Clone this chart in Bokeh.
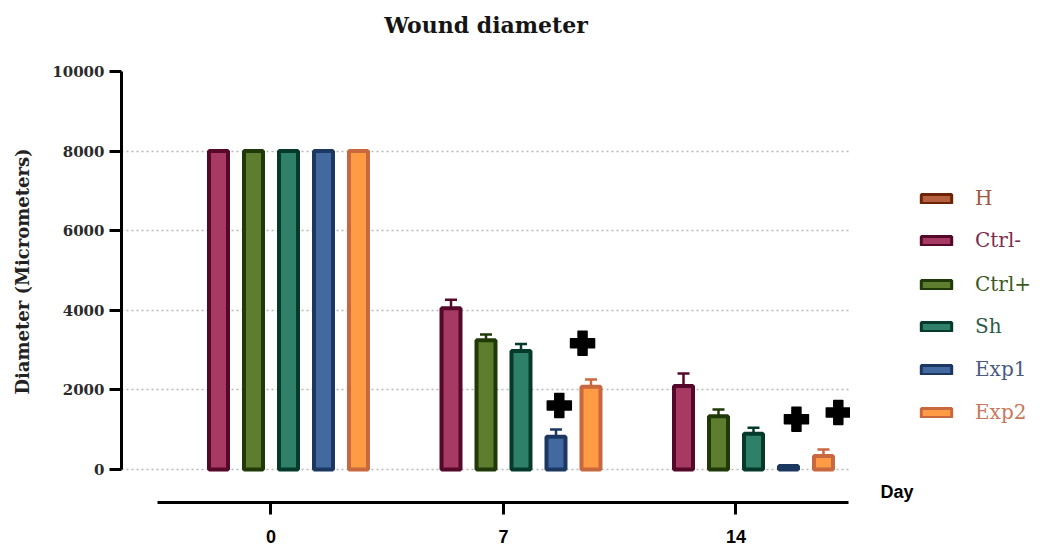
import numpy as np
from bokeh.plotting import figure
from bokeh.layouts import row
from bokeh.models import (ColumnDataSource, FixedTicker, Range1d, Whisker, TeeHead,
                          Legend, LegendItem, Label)
from bokeh.embed import file_html
from bokeh.resources import INLINE

# ---------------- data ----------------
days = ["0", "7", "14"]
groups = ["H", "Ctrl-", "Ctrl+", "Sh", "Exp1", "Exp2"]
H = [np.nan, np.nan, np.nan]
ctrl_neg = [8000, 4050, 2100]
ctrl_pos = [8000, 3250, 1340]
sh = [8000, 2980, 900]
exp1 = [8000, 820, 90]
exp2 = [8000, 2080, 340]
H_err = [0, 0, 0]
ctrl_neg_err = [0, 215, 310]
ctrl_pos_err = [0, 143, 170]
sh_err = [0, 175, 150]
exp1_err = [0, 184, 0]
exp2_err = [0, 180, 160]
# significance markers (day index position, value)
sig_x = [1.24, 1.34, 2.26, 2.44]
sig_y = [1610, 3170, 1260, 1430]
y_ticks = [0, 2000, 4000, 6000, 8000, 10000]
grid_ticks = [0, 2000, 4000, 6000, 8000]

values = [H, ctrl_neg, ctrl_pos, sh, exp1, exp2]
errors = [H_err, ctrl_neg_err, ctrl_pos_err, sh_err, exp1_err, exp2_err]
fills = ["#b5603f", "#a63a62", "#5f7d2e", "#2f8068", "#4269a0", "#ff9a45"]
lines = ["#6e2308", "#55082a", "#1f3a08", "#053a2b", "#1c3860", "#c8683e"]
text_cols = ["#a0583e", "#7b2d50", "#3c5a1e", "#2d5a4a", "#4a5a80", "#c8785a"]

H_PX = 549

# ---------------- main figure ----------------
p = figure(width=850, height=H_PX, output_backend="svg", toolbar_location=None,
           x_range=Range1d(-0.643, 2.4925), y_range=Range1d(-829, 10779),
           min_border_left=121, min_border_right=0, min_border_top=40,
           min_border_bottom=47)
p.outline_line_color = None
p.background_fill_color = "white"

p.title.text = "Wound diameter"
p.title.align = "center"
p.title.vertical_align = "bottom"
p.title.text_font = "DejaVu Serif"
p.title.text_font_style = "bold"
p.title.text_font_size = "22px"
p.title.text_color = "#151515"
p.title.standoff = 6

step = 0.1505
bar_w = 0.0817
day_idx = np.arange(len(days))
for i, (g, v, e) in enumerate(zip(groups, values, errors)):
    xs = day_idx + (i - 2.5) * step
    src = ColumnDataSource(dict(x=xs, top=v))
    p.vbar(x="x", top="top", bottom=0, width=bar_w, source=src,
           fill_color=fills[i], line_color=lines[i], line_width=4)
    vv = np.array(v, dtype=float)
    ee = np.array(e, dtype=float)
    mask = (ee > 0) & ~np.isnan(vv)
    if mask.any():
        wsrc = ColumnDataSource(dict(base=xs[mask], lower=vv[mask], upper=vv[mask] + ee[mask]))
        w = Whisker(source=wsrc, base="base", lower="lower", upper="upper",
                    dimension="height", line_color=lines[i], line_width=2.5,
                    upper_head=TeeHead(size=12, line_color=lines[i], line_width=2.5),
                    lower_head=None)
        p.add_layout(w)

p.scatter(x=sig_x, y=sig_y, marker="plus", size=24, fill_color="black",
          line_color="black", line_width=1.5, line_join="round")

# ---------------- axes ----------------
ya = p.yaxis[0]
ya.ticker = FixedTicker(ticks=y_ticks)
ya.bounds = (0, 10000)
ya.axis_line_width = 3
ya.axis_line_color = "black"
ya.major_tick_line_width = 3
ya.major_tick_out = 12
ya.major_tick_in = 0
ya.minor_tick_line_color = None
ya.major_label_standoff = 5
ya.major_label_text_font = "DejaVu Serif"
ya.major_label_text_font_style = "bold"
ya.major_label_text_font_size = "15px"
ya.major_label_text_color = "#2b2b2b"
ya.axis_label = "Diameter (Micrometers)"
ya.axis_label_text_font = "DejaVu Serif"
ya.axis_label_text_font_style = "bold"
ya.axis_label_text_font_size = "18px"
ya.axis_label_text_color = "#222222"
ya.axis_label_standoff = 16

xa = p.xaxis[0]
xa.ticker = FixedTicker(ticks=list(day_idx))
xa.major_label_overrides = {int(i): d for i, d in zip(day_idx, days)}
xa.bounds = (-0.488, 2.484)
xa.axis_line_width = 3
xa.axis_line_color = "black"
xa.major_tick_line_width = 3
xa.major_tick_out = 12
xa.major_tick_in = 0
xa.minor_tick_line_color = None
xa.major_label_standoff = 15
xa.major_label_text_font = "Liberation Sans"
xa.major_label_text_font_style = "bold"
xa.major_label_text_font_size = "18px"
xa.major_label_text_color = "black"

p.xgrid.visible = False
p.ygrid.ticker = FixedTicker(ticks=grid_ticks)
p.ygrid.grid_line_color = "#b8b8b8"
p.ygrid.grid_line_dash = "2 3"
p.ygrid.grid_line_width = 1.5

# ---------------- legend panel ----------------
q = figure(width=190, height=H_PX, output_backend="svg", toolbar_location=None,
           x_axis_type=None, y_axis_type=None, x_range=Range1d(0, 1), y_range=Range1d(0, 1),
           min_border_left=0, min_border_right=0, min_border_top=0, min_border_bottom=0)
q.outline_line_color = None
q.xgrid.visible = False
q.ygrid.visible = False

q.add_layout(Label(x=30, y=11, x_units="screen", y_units="screen", text="Day",
                   text_font="Liberation Sans", text_font_style="bold",
                   text_font_size="18px", text_color="black",
                   text_baseline="alphabetic"))

leg_y = [292, 250, 206, 164, 121, 78]
for i, g in enumerate(groups):
    r = q.vbar(x=[-5], top=[np.nan], width=0.1, fill_color=fills[i], line_color=lines[i],
               line_width=3)
    lg = Legend(items=[LegendItem(label=g, renderers=[r])],
                location=(67, leg_y[i]), background_fill_alpha=0,
                border_line_alpha=0, padding=0, margin=0, spacing=0,
                glyph_width=38, glyph_height=11, label_standoff=20,
                label_text_font="DejaVu Serif", label_text_font_size="20px",
                label_text_color=text_cols[i])
    q.add_layout(lg)

layout = row(p, q, spacing=0)
open("out.html", "w").write(file_html(layout, INLINE))
